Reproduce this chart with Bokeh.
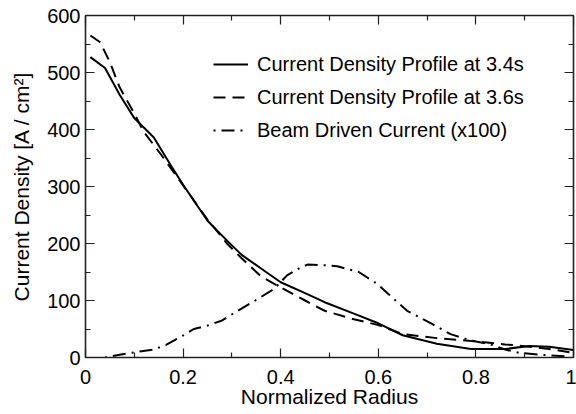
from bokeh.plotting import figure
from bokeh.models import Range1d, LinearAxis, FixedTicker, SingleIntervalTicker, Legend, LegendItem, CustomJSTickFormatter
from bokeh.embed import file_html
from bokeh.resources import INLINE

# ---- data ----
x_34 = [0.01, 0.04, 0.07, 0.10, 0.12, 0.14, 0.175, 0.20, 0.25, 0.29, 0.32, 0.37, 0.40, 0.45, 0.49, 0.55, 0.60, 0.65, 0.72, 0.79, 0.86, 0.91, 0.95, 1.0]
y_34 = [527, 508, 461, 420, 403, 386, 337, 303, 240, 205, 180, 150, 132, 113, 97, 77, 60, 39, 24, 15, 15, 20, 19, 13]

x_36 = [0.01, 0.03, 0.05, 0.07, 0.10, 0.12, 0.154, 0.195, 0.25, 0.29, 0.32, 0.36, 0.40, 0.45, 0.49, 0.55, 0.60, 0.65, 0.72, 0.79, 0.86, 0.91, 0.95, 1.0]
y_36 = [565, 553, 518, 474, 428, 395, 357, 308, 242, 200, 174, 142, 123, 100, 82, 67, 57, 41, 34, 29, 23, 19, 15, 8]

x_beam = [0.04, 0.07, 0.10, 0.14, 0.165, 0.205, 0.222, 0.25, 0.28, 0.318, 0.348, 0.386, 0.413, 0.437, 0.455, 0.49, 0.516, 0.56, 0.598, 0.62, 0.659, 0.71, 0.748, 0.789, 0.83, 0.86, 0.89, 0.946, 0.99]
y_beam = [0, 5, 9, 14, 22, 41, 50, 56, 65, 85, 100, 120, 144, 156, 163, 162, 160, 150, 129, 112, 82, 59, 41, 30, 23, 14, 8, 4, 2]

series_labels = ["Current Density Profile at 3.4s",
                 "Current Density Profile at 3.6s",
                 "Beam Driven Current (x100)"]

x_ticks = [0, 0.2, 0.4, 0.6, 0.8, 1.0]
x_tick_labels = ["0", "0.2", "0.4", "0.6", "0.8", "1"]
x_minor = [0.1, 0.3, 0.5, 0.7, 0.9]

FONT = "Liberation Sans"

p = figure(width=576, height=414, output_backend="svg", toolbar_location=None,
           x_range=Range1d(0, 1), y_range=Range1d(0, 600),
           min_border_left=85, min_border_right=3, min_border_top=15, min_border_bottom=57,
           x_axis_label="Normalized Radius", y_axis_label="Current Density [A / cm\u00b2]")
p.grid.visible = False
p.outline_line_color = None
p.background_fill_color = "white"
p.border_fill_color = "white"

xt = FixedTicker(ticks=x_ticks, minor_ticks=x_minor)
yt = SingleIntervalTicker(interval=100, num_minor_ticks=2)

def style_axis(ax, show_labels):
    ax.axis_line_color = "#222222"
    ax.axis_line_width = 1.6
    ax.major_tick_line_color = "#222222"
    ax.minor_tick_line_color = "#222222"
    ax.major_tick_line_width = 1.2
    ax.minor_tick_line_width = 1.2
    ax.major_tick_in = 9
    ax.major_tick_out = 0
    ax.minor_tick_in = 5
    ax.minor_tick_out = 0
    if show_labels:
        ax.major_label_text_font = FONT
        ax.major_label_text_font_size = "20px"
        ax.major_label_text_color = "black"
        ax.axis_label_text_font = FONT
        ax.axis_label_text_font_size = "21px"
        ax.axis_label_text_font_style = "normal"
        ax.axis_label_text_color = "black"
    else:
        ax.formatter = CustomJSTickFormatter(code="return '';")
        ax.major_label_standoff = 0

p.xaxis.ticker = xt
p.xaxis.major_label_overrides = dict(zip(x_ticks, x_tick_labels))
p.yaxis.ticker = yt
style_axis(p.xaxis[0], True)
style_axis(p.yaxis[0], True)
p.xaxis.major_label_standoff = 12
p.xaxis.axis_label_standoff = -2
p.yaxis.major_label_standoff = 5
p.yaxis.axis_label_standoff = 11

top = LinearAxis(ticker=xt)
right = LinearAxis(ticker=yt)
style_axis(top, False)
style_axis(right, False)
p.add_layout(top, "above")
p.add_layout(right, "right")

r1 = p.line(x_34, y_34, line_color="black", line_width=2)
r2 = p.line(x_36, y_36, line_color="black", line_width=2, line_dash="12 7")
r3 = p.line(x_beam, y_beam, line_color="black", line_width=2, line_dash="13 6 2 6", line_dash_offset=19)

legend = Legend(items=[LegendItem(label=series_labels[0], renderers=[r1]),
                       LegendItem(label=series_labels[1], renderers=[r2]),
                       LegendItem(label=series_labels[2], renderers=[r3])],
                location=(128, 212), padding=0, margin=0, spacing=3,
                label_height=30, glyph_height=30, glyph_width=35, label_standoff=9,
                label_text_font=FONT, label_text_font_size="20px", label_text_color="black",
                border_line_alpha=0, background_fill_alpha=0)
p.add_layout(legend, "center")

open("out.html", "w").write(file_html(p, INLINE))
